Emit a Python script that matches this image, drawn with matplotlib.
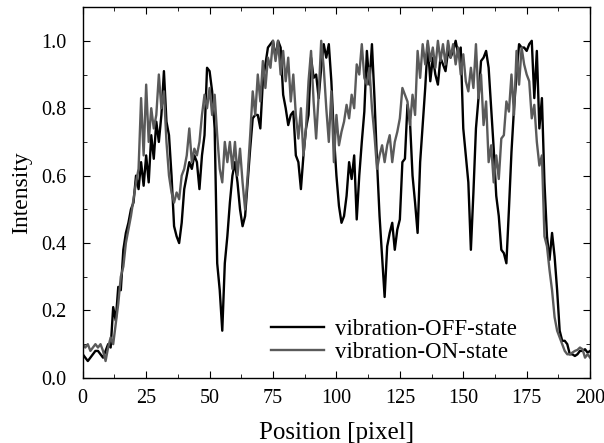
import numpy as np
import matplotlib
matplotlib.use("Agg")
import matplotlib.pyplot as plt
from matplotlib.ticker import MultipleLocator

position = np.arange(0, 201)

# vibration-OFF-state (black)
off_state = [
    0.07, 0.06, 0.05, 0.06, 0.07, 0.08, 0.08, 0.07, 0.06, 0.08,
    0.10, 0.09, 0.21, 0.17, 0.27, 0.26, 0.38, 0.43, 0.46, 0.50,
    0.52, 0.60, 0.56, 0.64, 0.57, 0.66, 0.58, 0.72, 0.65, 0.76,
    0.70, 0.78, 0.91, 0.76, 0.72, 0.60, 0.45, 0.42, 0.40, 0.46,
    0.56, 0.60, 0.64, 0.62, 0.66, 0.64, 0.56, 0.66, 0.72, 0.92,
    0.91, 0.85, 0.74, 0.34, 0.26, 0.14, 0.34, 0.42, 0.52, 0.60,
    0.64, 0.58, 0.50, 0.45, 0.48, 0.58, 0.68, 0.77, 0.78, 0.78,
    0.74, 0.88, 0.93, 0.98, 0.99, 1.00, 0.95, 1.00, 0.98, 0.84,
    0.80, 0.75, 0.78, 0.79, 0.66, 0.64, 0.56, 0.66, 0.74, 0.78,
    0.95, 0.89, 0.90, 0.83, 0.92, 0.99, 0.95, 0.99, 0.88, 0.72,
    0.60, 0.51, 0.46, 0.48, 0.54, 0.64, 0.59, 0.66, 0.47, 0.60,
    0.70, 0.79, 0.97, 0.87, 0.99, 0.83, 0.64, 0.48, 0.36, 0.24,
    0.39, 0.43, 0.46, 0.38, 0.44, 0.47, 0.64, 0.65, 0.81, 0.76,
    0.60, 0.52, 0.43, 0.64, 0.75, 0.86, 0.99, 0.88, 0.95, 0.90,
    0.87, 0.95, 0.93, 0.91, 0.97, 0.95, 0.97, 1.00, 0.96, 0.98,
    0.74, 0.66, 0.58, 0.38, 0.55, 0.74, 0.83, 0.94, 0.95, 0.97,
    0.92, 0.80, 0.68, 0.54, 0.48, 0.38, 0.37, 0.34, 0.50, 0.67,
    0.80, 0.90, 0.99, 0.98, 0.98, 0.97, 0.99, 1.00, 0.83, 0.97,
    0.74, 0.83, 0.58, 0.42, 0.35, 0.43, 0.36, 0.26, 0.14, 0.11,
    0.11, 0.10, 0.07, 0.07, 0.065, 0.07, 0.08, 0.08, 0.085, 0.075,
    0.08,
]

# vibration-ON-state (gray)
on_state = [
    0.10, 0.09, 0.10, 0.08, 0.09, 0.10, 0.09, 0.10, 0.08, 0.05,
    0.09, 0.12, 0.10, 0.16, 0.22, 0.30, 0.33, 0.40, 0.44, 0.48,
    0.53, 0.58, 0.62, 0.83, 0.66, 0.87, 0.70, 0.80, 0.74, 0.78,
    0.90, 0.80, 0.85, 0.70, 0.60, 0.55, 0.52, 0.55, 0.53, 0.60,
    0.62, 0.66, 0.74, 0.64, 0.68, 0.66, 0.70, 0.78, 0.84, 0.80,
    0.86, 0.78, 0.84, 0.72, 0.62, 0.58, 0.70, 0.64, 0.70, 0.62,
    0.70, 0.60, 0.68, 0.58, 0.50, 0.60, 0.72, 0.85, 0.78, 0.90,
    0.82, 0.94, 0.86, 0.95, 0.92, 1.00, 0.94, 1.00, 0.90, 0.97,
    0.88, 0.95, 0.82, 0.90, 0.78, 0.71, 0.80, 0.66, 0.74, 0.88,
    0.97, 0.82, 0.71, 0.84, 1.00, 0.92, 0.80, 0.70, 0.85, 0.64,
    0.78, 0.69, 0.73, 0.76, 0.81, 0.77, 0.84, 0.80, 0.93, 0.90,
    0.99, 0.89, 0.87, 0.92, 0.80, 0.72, 0.62, 0.66, 0.69, 0.64,
    0.69, 0.72, 0.64, 0.70, 0.73, 0.77, 0.86, 0.84, 0.82, 0.75,
    0.84, 0.78, 0.97, 0.89, 0.99, 0.93, 1.00, 0.94, 0.98, 0.92,
    1.00, 0.94, 0.99, 0.93, 1.00, 0.95, 0.99, 0.93, 0.98, 0.90,
    0.96, 0.88, 0.85, 0.92, 0.86, 0.99, 0.83, 0.90, 0.75, 0.82,
    0.64, 0.69, 0.58, 0.66, 0.59, 0.71, 0.72, 0.82, 0.79, 0.90,
    0.78, 0.97, 0.87, 0.98, 0.93, 0.90, 0.88, 0.77, 0.81, 0.70,
    0.63, 0.66, 0.42, 0.39, 0.32, 0.26, 0.18, 0.14, 0.12, 0.10,
    0.08, 0.07, 0.07, 0.075, 0.08, 0.083, 0.09, 0.085, 0.06, 0.07,
    0.06,
]

plt.rcParams['font.family'] = ['Liberation Serif', 'DejaVu Serif']

fig = plt.figure(figsize=(6.04, 4.43), dpi=100)
ax = fig.add_axes([0.137, 0.147, 0.84, 0.837])

ax.plot(position, off_state, color='black', linewidth=1.7, label='vibration-OFF-state')
ax.plot(position, on_state, color='#5a5a5a', linewidth=1.7, label='vibration-ON-state')

ax.set_xlim(0, 200)
ax.set_ylim(0, 1.1)
ax.xaxis.set_major_locator(MultipleLocator(25))
ax.xaxis.set_minor_locator(MultipleLocator(12.5))
ax.yaxis.set_major_locator(MultipleLocator(0.2))
ax.yaxis.set_minor_locator(MultipleLocator(0.1))
ax.tick_params(which='both', direction='in', top=True, right=True, labelsize=14.5)
ax.tick_params(which='major', length=5)
ax.tick_params(which='minor', length=3)
ax.tick_params(axis='x', which='major', pad=8)
ax.tick_params(axis='y', which='major', pad=12)
for s in ax.spines.values():
    s.set_linewidth(1.0)

ax.set_xlabel('Position [pixel]', fontsize=18, labelpad=10)
ax.set_ylabel('Intensity', fontsize=17, labelpad=6)

ax.legend(loc='upper left', bbox_to_anchor=(0.33, 0.215), frameon=False,
          fontsize=16.5, handlelength=2.3, labelspacing=0.1, handletextpad=0.5)

plt.savefig("out.png", dpi=100)
